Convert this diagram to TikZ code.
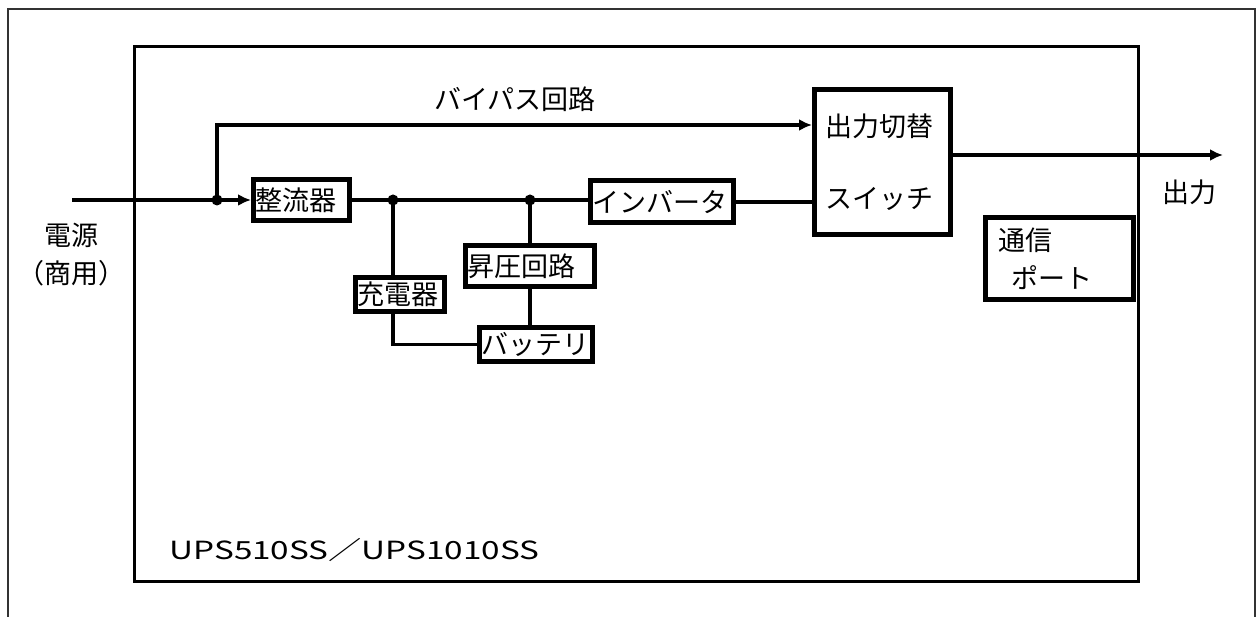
\documentclass[tikz,border=0pt]{standalone}
\usepackage{fontspec}
\setmainfont{Noto Sans CJK JP}
\newfontfamily\widefont[FakeStretch=1.33]{Noto Sans CJK JP}
\usetikzlibrary{arrows.meta}
\tikzset{every node/.style={ % Sets the text of each node
font=\fontsize{27}{38}\selectfont},
unit/.style={ % Boxes of the circuit, text starting at the left border
draw, line width=5pt, inner xsep=2pt, inner ysep=1pt, align=left},
wire/.style={line width=3.5pt}, % Plain connection
flow/.style={wire, -{Latex[length=13pt, width=12pt]}}, % Connection with arrow head
dot/.style={circle, fill, inner sep=0pt, minimum size=11pt}} % Junction

\begin{document}
\begin{tikzpicture}[x=1pt, y=-1pt]
    \useasboundingbox (0,0) rectangle (1259,617);
    
    \draw[line width=1.3pt, black!80] (8,617) -- (8,9) -- (1255,9) -- (1255,617);
    \draw[line width=3pt] (134,47) rectangle (1138,581);
    
    \node[unit, text width=92pt, minimum height=41pt] (rect) at (301.5,200) {整流器};
    \node[unit, text width=139pt, minimum height=42pt] (inv) at (662,202) {インバータ};
    \node[unit, text width=125pt, minimum height=41pt] (boost) at (530,266) {昇圧回路};
    \node[unit, text width=85pt, minimum height=34pt] (chg) at (400,294.5) {充電器};
    \node[unit, text width=109pt, minimum height=34pt] (bat) at (536,344.5) {バッテリ};
    \node[unit, inner xsep=11pt, text width=114pt, minimum height=145pt] (sw) at (882.5,162) {出力切替\\[34pt]スイッチ};
    \node[unit, inner xsep=13pt, text width=122pt, minimum height=82pt] (com) at (1059.5,258.5) {通信\\\hspace*{13pt}ポート};
    
    \node[dot] (j1) at (217,200) {};
    \node[dot] (j2) at (393,200) {};
    \node[dot] (j3) at (530,200) {};
    \coordinate (in) at (72,200);
    \coordinate (by) at (217,125);
    \coordinate (out) at (1223,155);
    
    \draw[flow] (in) -- (rect.west);
    \draw[flow] (j1.center) -- (by) -- (by -| sw.west);
    \draw[wire] (rect.east) -- (j3.center) -- (j3 -| inv.west);
    \draw[wire] (inv.east) -- (inv.east -| sw.west);
    \draw[flow] (sw.east |- out) -- (out);
    \draw[wire] (j2.center) -- (j2 |- chg.north);
    \draw[wire] (chg.south -| j2) |- (bat.west);
    \draw[wire] (j3.center) -- (boost.north);
    \draw[wire] (boost.south) -- (boost.south |- bat.north);
    
    \node[align=center] (src) at (71,255) {電源\\（商用）};
    \node (bylbl) at (515,99) {バイパス回路};
    \node (outlbl) at (1189,192) {出力};
    \node[anchor=west, font=\widefont\fontsize{25}{30}\selectfont] (model) at (166,550) {UPS510SS／UPS1010SS};
    
\end{tikzpicture}
\end{document}
